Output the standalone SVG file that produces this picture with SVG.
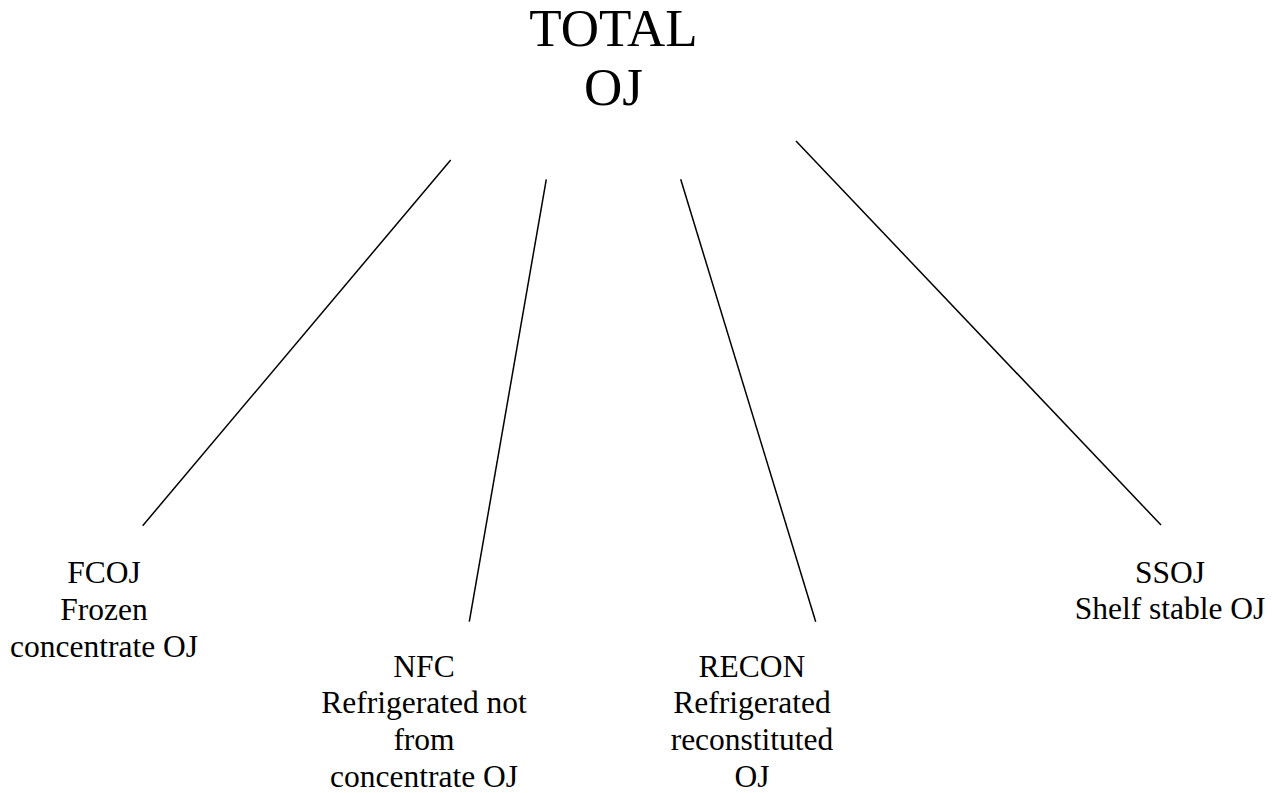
<svg xmlns="http://www.w3.org/2000/svg" width="1277" height="793" viewBox="0 0 1277 793">
<style>
.t{fill:#000;text-anchor:middle}
.title{font-size:53px}
.lbl{font-size:31.5px}
.c line{stroke:#000;stroke-width:1.5;fill:none}
</style>
<rect width="1277" height="793" fill="#fff"/>
<g font-family="'Times New Roman', Times, 'Nimbus Roman', 'Liberation Serif', serif">
<g id="total">
<text class="t title" x="613.5" y="46">TOTAL</text>
<text class="t title" x="613.5" y="105">OJ</text>
</g>
<g id="fcoj">
<text class="t lbl" x="104" y="583">FCOJ</text>
<text class="t lbl" x="104" y="620">Frozen</text>
<text class="t lbl" x="104" y="657">concentrate OJ</text>
</g>
<g id="nfc">
<text class="t lbl" x="424" y="677">NFC</text>
<text class="t lbl" x="424" y="713">Refrigerated not</text>
<text class="t lbl" x="424" y="750">from</text>
<text class="t lbl" x="424" y="787">concentrate OJ</text>
</g>
<g id="recon">
<text class="t lbl" x="752" y="677">RECON</text>
<text class="t lbl" x="752" y="713">Refrigerated</text>
<text class="t lbl" x="752" y="750">reconstituted</text>
<text class="t lbl" x="752" y="787">OJ</text>
</g>
<g id="ssoj">
<text class="t lbl" x="1170" y="583">SSOJ</text>
<text class="t lbl" x="1170" y="619">Shelf stable OJ</text>
</g>
</g>
<g id="connectors" class="c">
<line x1="450.7" y1="160" x2="142.7" y2="525.7"/>
<line x1="546.3" y1="179.3" x2="469.3" y2="621.7"/>
<line x1="680.7" y1="179.3" x2="815.7" y2="621.7"/>
<line x1="796" y1="141" x2="1161" y2="525"/>
</g>
</svg>
